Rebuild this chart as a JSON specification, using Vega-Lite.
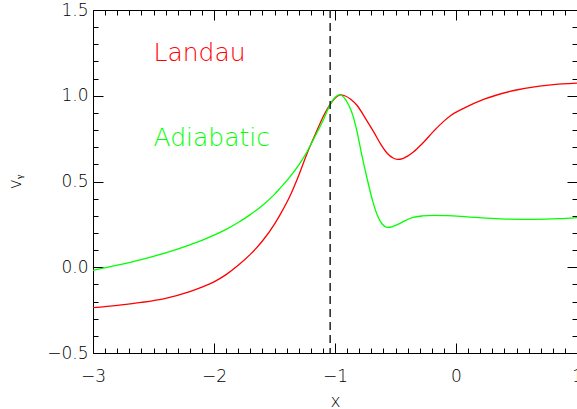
{
  "$schema": "https://vega.github.io/schema/vega-lite/v6.json",
  "width": 484,
  "height": 343,
  "autosize": {"type": "none"},
  "padding": {"left": 93, "top": 10, "right": 0, "bottom": 56},
  "background": "white",
  "config": {
    "view": {"stroke": null},
    "font": "DejaVu Sans",
    "axis": {
      "grid": false,
      "domainColor": "#000000",
      "domainWidth": 1,
      "tickColor": "#000000",
      "tickWidth": 1,
      "labelColor": "#000000",
      "titleColor": "#000000",
      "labelFont": "DejaVu Sans",
      "labelFontSize": 17,
      "labelFontWeight": 200,
      "titleFont": "DejaVu Sans",
      "titleFontSize": 17,
      "titleFontWeight": 200,
      "labelFlush": false,
      "labelOverlap": false,
      "labelBound": false
    }
  },
  "datasets": {
    "curves": [
      {"series": "Landau", "x": -3.0, "y": -0.236},
      {"series": "Landau", "x": -2.8, "y": -0.222},
      {"series": "Landau", "x": -2.6, "y": -0.205},
      {"series": "Landau", "x": -2.4, "y": -0.181},
      {"series": "Landau", "x": -2.2, "y": -0.142},
      {"series": "Landau", "x": -2.1, "y": -0.116},
      {"series": "Landau", "x": -2.0, "y": -0.085},
      {"series": "Landau", "x": -1.9, "y": -0.043},
      {"series": "Landau", "x": -1.8, "y": 0.011},
      {"series": "Landau", "x": -1.7, "y": 0.075},
      {"series": "Landau", "x": -1.6, "y": 0.153},
      {"series": "Landau", "x": -1.5, "y": 0.252},
      {"series": "Landau", "x": -1.451, "y": 0.31},
      {"series": "Landau", "x": -1.369, "y": 0.42},
      {"series": "Landau", "x": -1.3, "y": 0.535},
      {"series": "Landau", "x": -1.23, "y": 0.665},
      {"series": "Landau", "x": -1.16, "y": 0.78},
      {"series": "Landau", "x": -1.093, "y": 0.885},
      {"series": "Landau", "x": -1.037, "y": 0.953},
      {"series": "Landau", "x": -1.0, "y": 0.985},
      {"series": "Landau", "x": -0.955, "y": 1.005},
      {"series": "Landau", "x": -0.92, "y": 1.0},
      {"series": "Landau", "x": -0.87, "y": 0.98},
      {"series": "Landau", "x": -0.817, "y": 0.943},
      {"series": "Landau", "x": -0.75, "y": 0.87},
      {"series": "Landau", "x": -0.679, "y": 0.788},
      {"series": "Landau", "x": -0.62, "y": 0.715},
      {"series": "Landau", "x": -0.569, "y": 0.665},
      {"series": "Landau", "x": -0.52, "y": 0.637},
      {"series": "Landau", "x": -0.486, "y": 0.629},
      {"series": "Landau", "x": -0.44, "y": 0.634},
      {"series": "Landau", "x": -0.4, "y": 0.648},
      {"series": "Landau", "x": -0.35, "y": 0.673},
      {"series": "Landau", "x": -0.28, "y": 0.72},
      {"series": "Landau", "x": -0.182, "y": 0.795},
      {"series": "Landau", "x": -0.1, "y": 0.852},
      {"series": "Landau", "x": -0.043, "y": 0.885},
      {"series": "Landau", "x": 0.05, "y": 0.922},
      {"series": "Landau", "x": 0.233, "y": 0.98},
      {"series": "Landau", "x": 0.509, "y": 1.035},
      {"series": "Landau", "x": 0.785, "y": 1.064},
      {"series": "Landau", "x": 1.0, "y": 1.074},
      {"series": "Adiabatic", "x": -3.0, "y": -0.018},
      {"series": "Adiabatic", "x": -2.8, "y": 0.012},
      {"series": "Adiabatic", "x": -2.6, "y": 0.045},
      {"series": "Adiabatic", "x": -2.4, "y": 0.084},
      {"series": "Adiabatic", "x": -2.2, "y": 0.131},
      {"series": "Adiabatic", "x": -2.1, "y": 0.157},
      {"series": "Adiabatic", "x": -2.0, "y": 0.187},
      {"series": "Adiabatic", "x": -1.9, "y": 0.221},
      {"series": "Adiabatic", "x": -1.8, "y": 0.261},
      {"series": "Adiabatic", "x": -1.7, "y": 0.307},
      {"series": "Adiabatic", "x": -1.6, "y": 0.36},
      {"series": "Adiabatic", "x": -1.5, "y": 0.425},
      {"series": "Adiabatic", "x": -1.451, "y": 0.463},
      {"series": "Adiabatic", "x": -1.386, "y": 0.515},
      {"series": "Adiabatic", "x": -1.3, "y": 0.595},
      {"series": "Adiabatic", "x": -1.23, "y": 0.675},
      {"series": "Adiabatic", "x": -1.16, "y": 0.77},
      {"series": "Adiabatic", "x": -1.093, "y": 0.865},
      {"series": "Adiabatic", "x": -1.037, "y": 0.953},
      {"series": "Adiabatic", "x": -1.0, "y": 0.99},
      {"series": "Adiabatic", "x": -0.968, "y": 1.005},
      {"series": "Adiabatic", "x": -0.94, "y": 1.0},
      {"series": "Adiabatic", "x": -0.91, "y": 0.975},
      {"series": "Adiabatic", "x": -0.885, "y": 0.943},
      {"series": "Adiabatic", "x": -0.85, "y": 0.88},
      {"series": "Adiabatic", "x": -0.817, "y": 0.788},
      {"series": "Adiabatic", "x": -0.78, "y": 0.66},
      {"series": "Adiabatic", "x": -0.734, "y": 0.515},
      {"series": "Adiabatic", "x": -0.69, "y": 0.39},
      {"series": "Adiabatic", "x": -0.651, "y": 0.305},
      {"series": "Adiabatic", "x": -0.61, "y": 0.252},
      {"series": "Adiabatic", "x": -0.569, "y": 0.233},
      {"series": "Adiabatic", "x": -0.53, "y": 0.236},
      {"series": "Adiabatic", "x": -0.486, "y": 0.248},
      {"series": "Adiabatic", "x": -0.42, "y": 0.272},
      {"series": "Adiabatic", "x": -0.36, "y": 0.289},
      {"series": "Adiabatic", "x": -0.28, "y": 0.299},
      {"series": "Adiabatic", "x": -0.182, "y": 0.303},
      {"series": "Adiabatic", "x": -0.07, "y": 0.301},
      {"series": "Adiabatic", "x": 0.094, "y": 0.294},
      {"series": "Adiabatic", "x": 0.371, "y": 0.282},
      {"series": "Adiabatic", "x": 0.647, "y": 0.279},
      {"series": "Adiabatic", "x": 0.85, "y": 0.283},
      {"series": "Adiabatic", "x": 1.0, "y": 0.29}
    ],
    "labels": [
      {"series": "Landau", "label": "Landau", "x": -2.5, "y": 1.205},
      {"series": "Adiabatic", "label": "Adiabatic", "x": -2.5, "y": 0.708}
    ],
    "marker": [{"x": -1.04}]
  },
  "layer": [
    {
      "data": {"name": "curves"},
      "mark": {"type": "line", "strokeWidth": 1.3, "interpolate": "monotone", "clip": true},
      "encoding": {
        "x": {
          "field": "x", "type": "quantitative",
          "scale": {"domain": [-3, 1], "nice": false, "zero": false},
          "axis": {
            "orient": "bottom",
            "title": "x",
            "titlePadding": 4,
            "values": [-3, -2.9, -2.8, -2.7, -2.6, -2.5, -2.4, -2.3, -2.2, -2.1, -2, -1.9, -1.8, -1.7, -1.6, -1.5, -1.4, -1.3, -1.2, -1.1, -1, -0.9, -0.8, -0.7, -0.6, -0.5, -0.4, -0.3, -0.2, -0.1, 0, 0.1, 0.2, 0.3, 0.4, 0.5, 0.6, 0.7, 0.8, 0.9, 1],
            "labelExpr": "abs(datum.value - round(datum.value)) < 0.001 ? format(datum.value, 'd') : ''",
            "tickSize": {"condition": {"test": "abs(datum.value - round(datum.value)) < 0.001", "value": -10}, "value": -5},
            "labelPadding": 25
          }
        },
        "y": {
          "field": "y", "type": "quantitative",
          "scale": {"domain": [-0.5, 1.5], "nice": false, "zero": false},
          "axis": {
            "orient": "left",
            "title": "vᵧ",
            "titlePadding": 22,
            "values": [-0.5, -0.4, -0.3, -0.2, -0.1, 0, 0.1, 0.2, 0.3, 0.4, 0.5, 0.6, 0.7, 0.8, 0.9, 1, 1.1, 1.2, 1.3, 1.4, 1.5],
            "labelExpr": "abs(datum.value * 2 - round(datum.value * 2)) < 0.001 ? format(datum.value, '.1f') : ''",
            "tickSize": {"condition": {"test": "abs(datum.value * 2 - round(datum.value * 2)) < 0.001", "value": -10}, "value": -5},
            "labelPadding": 15
          }
        },
        "color": {
          "field": "series", "type": "nominal",
          "scale": {"domain": ["Landau", "Adiabatic"], "range": ["#ff0000", "#00ff00"]},
          "legend": null
        }
      }
    },
    {
      "data": {"name": "marker"},
      "mark": {"type": "rule", "color": "#222222", "strokeWidth": 1.5, "strokeDash": [8, 5]},
      "encoding": {
        "x": {
          "field": "x", "type": "quantitative",
          "axis": {
            "orient": "top",
            "title": null,
            "labels": false,
            "values": [-3, -2.9, -2.8, -2.7, -2.6, -2.5, -2.4, -2.3, -2.2, -2.1, -2, -1.9, -1.8, -1.7, -1.6, -1.5, -1.4, -1.3, -1.2, -1.1, -1, -0.9, -0.8, -0.7, -0.6, -0.5, -0.4, -0.3, -0.2, -0.1, 0, 0.1, 0.2, 0.3, 0.4, 0.5, 0.6, 0.7, 0.8, 0.9, 1],
            "tickSize": {"condition": {"test": "abs(datum.value - round(datum.value)) < 0.001", "value": -10}, "value": -5}
          }
        }
      }
    },
    {
      "data": {"name": "labels"},
      "mark": {"type": "text", "align": "left", "baseline": "alphabetic", "fontSize": 25, "font": "DejaVu Sans", "fontWeight": 200},
      "encoding": {
        "x": {"field": "x", "type": "quantitative", "axis": null},
        "y": {
          "field": "y", "type": "quantitative",
          "axis": {
            "orient": "right",
            "title": null,
            "labels": false,
            "values": [-0.5, -0.4, -0.3, -0.2, -0.1, 0, 0.1, 0.2, 0.3, 0.4, 0.5, 0.6, 0.7, 0.8, 0.9, 1, 1.1, 1.2, 1.3, 1.4, 1.5],
            "tickSize": {"condition": {"test": "abs(datum.value * 2 - round(datum.value * 2)) < 0.001", "value": -10}, "value": -5}
          }
        },
        "text": {"field": "label", "type": "nominal"},
        "color": {"field": "series", "type": "nominal", "legend": null}
      }
    }
  ],
  "resolve": {"axis": {"x": "independent", "y": "independent"}}
}
